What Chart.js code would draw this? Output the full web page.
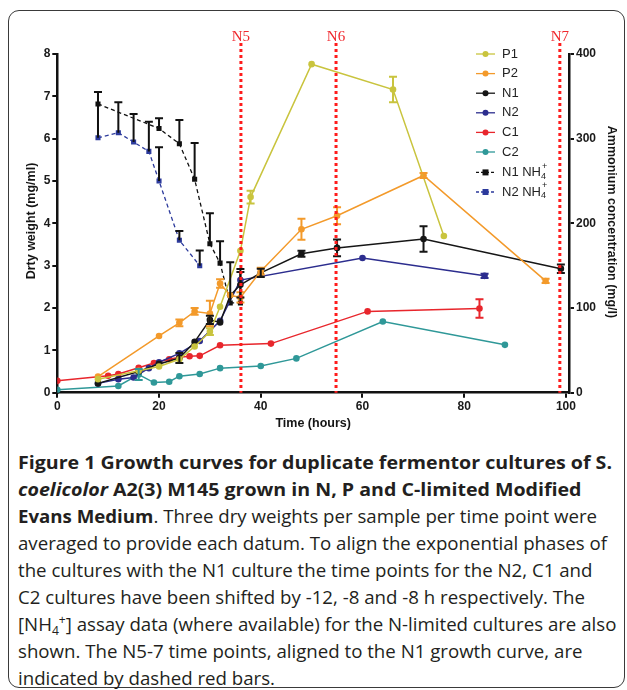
<!DOCTYPE html>
<html>
<head>
<meta charset="utf-8">
<script src="https://cdn.jsdelivr.net/npm/chart.js@4.4.1/dist/chart.umd.min.js"></script>
<style>
    html, body { margin: 0; padding: 0; background: #fff; }
    body { width: 627px; height: 690px; position: relative; overflow: hidden; }
    #frame { position: absolute; left: 8px; top: 10px; width: 615px; height: 676px; border: 1.5px solid #3a3a3a; border-radius: 11px; }
    #chartBox { position: absolute; left: 0; top: 0; width: 627px; height: 440px; }
    #caption { position: absolute; left: 18px; top: 448px; font-family: "Open Sans", sans-serif; font-size: 18.5px; line-height: 27px; color: #231f20; }
    #caption div { white-space: nowrap; width: max-content; height: 27px; transform-origin: 0 50%; }
    #caption .b { font-weight: bold; }
    #caption .sub, #caption .sup { position: relative; font-size: 12px; line-height: 0; }
    #caption .sub { top: 4px; }
    #caption .sup { top: -7px; }
</style>
</head>
<body>
<div id="frame"></div>
<div id="chartBox"><canvas id="growthChart" width="627" height="440"></canvas></div>
<div id="caption">
    <div class="b" data-kind="bold">Figure 1 Growth curves for duplicate fermentor cultures of S.</div>
    <div class="b" data-kind="bold"><i>coelicolor</i> A2(3) M145 grown in N, P and C-limited Modified</div>
    <div data-kind="reg"><b>Evans Medium</b>. Three dry weights per sample per time point were</div>
    <div data-kind="reg" data-ref="1">averaged to provide each datum. To align the exponential phases of</div>
    <div data-kind="reg">the cultures with the N1 culture the time points for the N2, C1 and</div>
    <div data-kind="reg">C2 cultures have been shifted by -12, -8 and -8 h respectively. The</div>
    <div data-kind="reg">[NH<span class="sub">4</span><span class="sup">+</span>] assay data (where available) for the N-limited cultures are also</div>
    <div data-kind="reg">shown. The N5-7 time points, aligned to the N1 growth curve, are</div>
    <div data-kind="reg">indicated by dashed red bars.</div>
</div>
<script>
// Données (poids sec en mg/ml, NH4+ en mg/l)
const p1Time = [8, 16, 20, 24, 27, 30, 32, 36, 38, 50, 66, 76];
const p1Weight = [0.32, 0.52, 0.62, 0.79, 1.09, 1.44, 2.03, 3.35, 4.62, 7.76, 7.16, 3.70];
const p1Err = [0, 0, 0, 0, 0, 0.08, 0, 0, 0.15, 0, 0.3, 0];

const p2Time = [8, 20, 24, 27, 30, 32, 34, 36, 40, 48, 55, 72, 96];
const p2Weight = [0.38, 1.34, 1.65, 1.92, 1.87, 2.58, 2.3, 2.25, 2.87, 3.86, 4.18, 5.13, 2.64];
const p2Err = [0, 0, 0.08, 0.08, 0.3, 0.1, 0, 0.12, 0.08, 0.25, 0.2, 0.06, 0.05];

const n1Time = [8, 16, 20, 24, 27, 30, 32, 34, 36, 40, 48, 55, 72, 99];
const n1Weight = [0.22, 0.5, 0.68, 0.82, 1.2, 1.72, 1.66, 2.3, 2.55, 2.83, 3.28, 3.42, 3.63, 2.93];
const n1Err = [0, 0, 0, 0.12, 0, 0.1, 0, 0, 0.3, 0.1, 0.07, 0.2, 0.3, 0.1];

const n2Time = [8, 12, 15, 18, 20, 24, 28, 32, 36, 60, 84];
const n2Weight = [0.22, 0.32, 0.36, 0.58, 0.72, 0.93, 1.22, 1.7, 2.66, 3.18, 2.76];
const n2Err = [0, 0, 0, 0, 0, 0, 0, 0, 0, 0, 0.05];

const c1Time = [0, 10, 12, 16, 19, 22, 24, 26, 28, 32, 42, 61, 83];
const c1Weight = [0.28, 0.40, 0.44, 0.59, 0.70, 0.79, 0.84, 0.86, 0.87, 1.12, 1.16, 1.92, 1.99];
const c1Err = [0, 0, 0, 0, 0, 0, 0, 0, 0, 0, 0, 0, 0.22];

const c2Time = [0, 12, 16, 19, 22, 24, 28, 32, 40, 47, 64, 88];
const c2Weight = [0.07, 0.16, 0.43, 0.24, 0.26, 0.39, 0.44, 0.58, 0.63, 0.81, 1.68, 1.13];
const c2Err = [0, 0, 0.13, 0, 0, 0, 0, 0, 0, 0, 0, 0];

const n1NH4Time = [8, 20, 24, 27, 30, 32, 34, 36];
const n1NH4Conc = [341, 312, 294, 252, 176, 153, 106, 106];
const n1NH4ErrUp = [14, 12, 28, 43, 36, 26, 48, 40];

const n2NH4Time = [8, 12, 15, 18, 20, 24, 28];
const n2NH4Conc = [301, 307, 296, 285, 250, 180, 150];
const n2NH4ErrUp = [54, 36, 33, 35, 40, 11, 18];

// Points d'échantillonnage N5-N7
const sampleTimes = [36.1, 54.8, 98.8];
const sampleLabels = ['N5', 'N6', 'N7'];

const xTicks = [0, 20, 40, 60, 80, 100];

function pts(t, v) {
    return t.map((x, i) => ({ x: x, y: v[i] }));
}

function growthSet(label, color, t, v, err) {
    return {
        label: label,
        data: pts(t, v),
        errors: err,
        errorMode: 'both',
        errorColor: color,
        borderColor: color,
        backgroundColor: color,
        borderWidth: 1.5,
        pointRadius: 3.3,
        pointStyle: 'circle',
        pointBorderWidth: 0,
        tension: 0,
        yAxisID: 'y'
    };
}

function nh4Set(label, color, t, v, err) {
    return {
        label: label,
        data: pts(t, v),
        errors: err,
        errorMode: 'up',
        errorColor: '#111',
        borderColor: color,
        backgroundColor: color,
        borderWidth: 1.3,
        borderDash: [4, 3],
        pointRadius: 3.6,
        pointStyle: 'rect',
        pointBorderWidth: 0,
        tension: 0,
        yAxisID: 'y2'
    };
}

const datasets = [
    growthSet('P1', '#c9c43e', p1Time, p1Weight, p1Err),
    growthSet('P2', '#f39a2b', p2Time, p2Weight, p2Err),
    growthSet('N1', '#161616', n1Time, n1Weight, n1Err),
    growthSet('N2', '#2c2d8e', n2Time, n2Weight, n2Err),
    growthSet('C1', '#e8262c', c1Time, c1Weight, c1Err),
    growthSet('C2', '#2f9898', c2Time, c2Weight, c2Err),
    nh4Set('N1 NH4+', '#111111', n1NH4Time, n1NH4Conc, n1NH4ErrUp),
    nh4Set('N2 NH4+', '#2c3a9c', n2NH4Time, n2NH4Conc, n2NH4ErrUp)
];

// Barres d'erreur
const errorBars = {
    id: 'errorBars',
    afterDatasetsDraw(chart) {
        const ctx = chart.ctx;
        chart.data.datasets.forEach((ds, di) => {
            if (!ds.errors) return;
            const meta = chart.getDatasetMeta(di);
            const yScale = chart.scales[ds.yAxisID];
            ctx.save();
            ctx.strokeStyle = ds.errorColor;
            ctx.lineWidth = 2;
            ds.errors.forEach((e, i) => {
                if (!e) return;
                const pt = meta.data[i];
                const val = ds.data[i].y;
                const top = yScale.getPixelForValue(val + e);
                const bot = ds.errorMode === 'up' ? pt.y : yScale.getPixelForValue(val - e);
                ctx.beginPath();
                ctx.moveTo(pt.x, top);
                ctx.lineTo(pt.x, bot);
                ctx.moveTo(pt.x - 4, top);
                ctx.lineTo(pt.x + 4, top);
                if (ds.errorMode !== 'up') {
                    ctx.moveTo(pt.x - 4, bot);
                    ctx.lineTo(pt.x + 4, bot);
                }
                ctx.stroke();
            });
            ctx.restore();
        });
    }
};

// Lignes rouges pointillées N5-N7
const sampleLines = {
    id: 'sampleLines',
    afterDatasetsDraw(chart) {
        const ctx = chart.ctx;
        const xs = chart.scales.x;
        const area = chart.chartArea;
        ctx.save();
        sampleTimes.forEach((t, i) => {
            const x = xs.getPixelForValue(t);
            ctx.strokeStyle = '#ff1c1c';
            ctx.lineWidth = 3;
            ctx.setLineDash([3, 3]);
            ctx.beginPath();
            ctx.moveTo(x, 43);
            ctx.lineTo(x, area.bottom);
            ctx.stroke();
            ctx.setLineDash([]);
            ctx.fillStyle = '#f0282d';
            ctx.font = '15px "Liberation Serif", serif';
            ctx.textAlign = 'center';
            ctx.textBaseline = 'alphabetic';
            ctx.fillText(sampleLabels[i], x, 41);
        });
        ctx.restore();
    }
};

// Légende et titres des axes
const sideLegend = {
    id: 'sideLegend',
    afterDraw(chart) {
        const ctx = chart.ctx;
        ctx.save();
        chart.data.datasets.forEach((ds, i) => {
            const y = 54 + i * 19.6 + (i > 5 ? 0.8 : 0);
            ctx.strokeStyle = ds.borderColor;
            ctx.lineWidth = 1.3;
            ctx.setLineDash(ds.borderDash ? [3, 2] : []);
            ctx.beginPath();
            ctx.moveTo(476, y);
            ctx.lineTo(495, y);
            ctx.stroke();
            ctx.setLineDash([]);
            ctx.fillStyle = ds.borderColor;
            if (ds.pointStyle === 'rect') {
                ctx.fillRect(482.5, y - 3, 6, 6);
            } else {
                ctx.beginPath();
                ctx.arc(485.5, y, 3, 0, Math.PI * 2);
                ctx.fill();
            }
            ctx.fillStyle = '#222';
            ctx.textAlign = 'left';
            ctx.textBaseline = 'middle';
            ctx.font = '13px "Liberation Sans", Arial, sans-serif';
            if (ds.label.endsWith('NH4+')) {
                const base = ds.label.slice(0, -2);
                ctx.fillText(base, 502, y);
                const w = ctx.measureText(base).width;
                ctx.font = '9px "Liberation Sans", Arial, sans-serif';
                ctx.fillText('4', 502 + w, y + 4);
                ctx.fillText('+', 502 + w + 1, y - 6);
            } else {
                ctx.fillText(ds.label, 502, y);
            }
        });

        ctx.fillStyle = '#151515';
        ctx.font = 'bold 12.5px "Liberation Sans", Arial, sans-serif';
        ctx.textAlign = 'center';
        ctx.textBaseline = 'middle';
        ctx.fillText('Time (hours)', (chart.chartArea.left + chart.chartArea.right) / 2, 424);

        ctx.save();
        ctx.translate(32, 221);
        ctx.rotate(-Math.PI / 2);
        ctx.fillText('Drty weight (mg/ml)', 0, 0);
        ctx.restore();

        ctx.save();
        ctx.translate(611, 222);
        ctx.rotate(Math.PI / 2);
        ctx.fillText('Ammonium concentration (mg/l)', 0, 0);
        ctx.restore();
        ctx.restore();
    }
};

const tickFont = { family: '"Liberation Sans", Arial, sans-serif', size: 12, weight: 'bold' };
const axisGrid = { drawOnChartArea: false, drawTicks: true, tickLength: 5, color: '#111', lineWidth: 2 };
const axisBorder = { display: true, color: '#111', width: 2.5 };

new Chart(document.getElementById('growthChart').getContext('2d'), {
    type: 'line',
    data: { datasets: datasets },
    options: {
        responsive: false,
        animation: false,
        devicePixelRatio: 1,
        layout: { padding: { top: 54, left: 0, right: 0, bottom: 0 } },
        plugins: { legend: { display: false }, tooltip: { enabled: false } },
        scales: {
            x: {
                type: 'linear',
                min: 0,
                max: 100.6,
                afterBuildTicks: s => { s.ticks = xTicks.map(v => ({ value: v })); },
                afterFit: s => { s.height = 47.3; },
                ticks: { font: tickFont, color: '#1a1a1a', padding: 2, maxRotation: 0 },
                grid: axisGrid,
                border: axisBorder
            },
            y: {
                position: 'left',
                min: 0,
                max: 8,
                afterFit: s => { s.width = 57.3; },
                ticks: { stepSize: 1, font: tickFont, color: '#1a1a1a', padding: 2 },
                grid: axisGrid,
                border: axisBorder
            },
            y2: {
                position: 'right',
                min: 0,
                max: 400,
                afterFit: s => { s.width = 58; },
                ticks: { stepSize: 100, font: tickFont, color: '#1a1a1a', padding: 2 },
                grid: axisGrid,
                border: axisBorder
            }
        }
    },
    plugins: [errorBars, sampleLines, sideLegend]
});

// Ajuster la largeur des lignes du texte de la figure
function fitCaption() {
    const lines = Array.from(document.querySelectorAll('#caption div'));
    const boldScale = 594 / lines[0].getBoundingClientRect().width;
    const ref = lines.find(l => l.dataset.ref);
    const regScale = 589 / ref.getBoundingClientRect().width;
    lines.forEach(l => {
        const s = l.dataset.kind === 'bold' ? boldScale : regScale;
        l.style.transform = 'scaleX(' + s + ')';
    });
}
document.fonts.ready.then(fitCaption);
</script>
</body>
</html>
